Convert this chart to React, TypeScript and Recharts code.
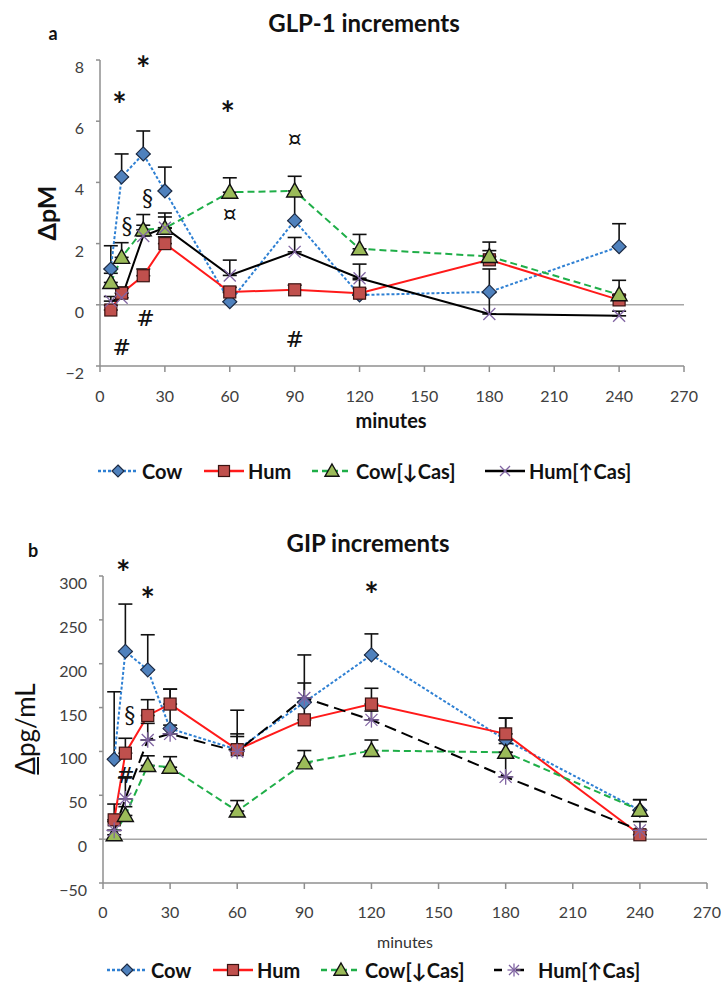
import React from 'react';
import { LineChart, Line, XAxis, YAxis, ErrorBar, ReferenceLine, ReferenceDot } from 'recharts';

const FONT = 'Lato, "Open Sans", "DejaVu Sans", sans-serif';

// sampling times (minutes)
const MINUTES = [5, 10, 20, 30, 60, 90, 120, 180, 240];
const X_TICKS = [0, 30, 60, 90, 120, 150, 180, 210, 240, 270];
const SERIES_NAMES = ['Cow', 'Hum', 'Cow[↓Cas]', 'Hum[↑Cas]'];

// panel a : GLP-1 increments (pM), upper error only
const GLP_COW = [1.17, 4.18, 4.93, 3.72, 0.1, 2.75, 0.32, 0.42, 1.9];
const GLP_COW_SE = [0.76, 0.75, 0.75, 0.78, 0.3, 0.85, 0.5, 0.75, 0.75];
const GLP_HUM = [-0.17, 0.38, 0.95, 2.0, 0.42, 0.49, 0.38, 1.47, 0.16];
const GLP_HUM_SE = [0.15, 0.2, 0.22, 0.22, 0.15, 0.15, 0.15, 0.3, 0.15];
const GLP_COWLOW = [0.73, 1.55, 2.45, 2.5, 3.68, 3.72, 1.83, 1.58, 0.33];
const GLP_COWLOW_SE = [0.3, 0.48, 0.5, 0.5, 0.47, 0.48, 0.47, 0.47, 0.47];
const GLP_HUMHIGH = [0.12, 0.23, 2.25, 2.52, 0.96, 1.73, 0.87, -0.3, -0.36];
const GLP_HUMHIGH_SE = [0.15, 0.3, 0.35, 0.35, 0.5, 0.47, 0.46, 0.7, 0.15];
const GLP_TICKS = [-2, 0, 2, 4, 6, 8];
const GLP_MARKS = [
  { minute: 9, value: 6.8, sign: '*' },
  { minute: 20, value: 8.0, sign: '*' },
  { minute: 59, value: 6.5, sign: '*' },
  { minute: 90, value: 5.4, sign: '¤' },
  { minute: 60, value: 2.94, sign: '¤' },
  { minute: 12.5, value: 2.6, sign: '§' },
  { minute: 22, value: 3.5, sign: '§' },
  { minute: 21, value: -0.46, sign: '#' },
  { minute: 10, value: -1.41, sign: '#' },
  { minute: 90, value: -1.14, sign: '#' },
];

// panel b : GIP increments (pg/mL)
const GIP_COW = [91, 214, 193, 126, 102, 156, 210, 113, 33];
const GIP_COW_SE = [77, 54, 40, 45, 45, 54, 24, 25, 12];
const GIP_HUM = [22, 98, 141, 154, 102, 136, 154, 120, 5];
const GIP_HUM_SE = [18, 17, 18, 17, 15, 20, 18, 18, 5];
const GIP_COWLOW = [5, 27, 84, 82, 32, 87, 101, 99, 33];
const GIP_COWLOW_SE = [5, 10, 11, 12, 12, 14, 12, 10, 12];
const GIP_HUMHIGH = [10, 46, 113, 120, 100, 161, 136, 71, 10];
const GIP_HUMHIGH_SE = [10, 25, 19, 10, 20, 17, 10, 28, 10];
const GIP_TICKS = [-50, 0, 50, 100, 150, 200, 250, 300];
const GIP_MARKS = [
  { minute: 9, value: 313, sign: '*' },
  { minute: 20, value: 282, sign: '*' },
  { minute: 120, value: 288, sign: '*' },
  { minute: 12, value: 142, sign: '§' },
  { minute: 10, value: 73, sign: '#' },
];

const buildRows = (cow: number[], cowSe: number[], hum: number[], humSe: number[],
  cl: number[], clSe: number[], hh: number[], hhSe: number[]) =>
  MINUTES.map((m, i) => ({
    minute: m,
    cow: cow[i], cowErr: [0, cowSe[i]],
    hum: hum[i], humErr: [0, humSe[i]],
    cowLow: cl[i], cowLowErr: [0, clSe[i]],
    humHigh: hh[i], humHighErr: [0, hhSe[i]],
  }));

const glpRows = buildRows(GLP_COW, GLP_COW_SE, GLP_HUM, GLP_HUM_SE, GLP_COWLOW, GLP_COWLOW_SE, GLP_HUMHIGH, GLP_HUMHIGH_SE);
const gipRows = buildRows(GIP_COW, GIP_COW_SE, GIP_HUM, GIP_HUM_SE, GIP_COWLOW, GIP_COWLOW_SE, GIP_HUMHIGH, GIP_HUMHIGH_SE);

const C_COW = '#2f80d3';
const C_HUM = '#ff1a1a';
const C_COWLOW = '#1fae48';
const AXIS = '#8f8f8f';

// markers
const diamond = (cx: number, cy: number, s = 7) => (
  <polygon points={`${cx},${cy - s} ${cx + s},${cy} ${cx},${cy + s} ${cx - s},${cy}`} fill="#4f81bd" stroke="#1d2b44" strokeWidth={1.2} />
);
const square = (cx: number, cy: number, s = 6) => (
  <rect x={cx - s} y={cy - s} width={s * 2} height={s * 2} fill="#c0504d" stroke="#3b1312" strokeWidth={1.2} />
);
const triangle = (cx: number, cy: number, s = 8) => (
  <polygon points={`${cx},${cy - s} ${cx + s},${cy + s * 0.75} ${cx - s},${cy + s * 0.75}`} fill="#9bbb59" stroke="#111" strokeWidth={1.4} />
);
const cross = (cx: number, cy: number, full: boolean, s = 6) => (
  <g stroke="#8064a2" strokeWidth={1.3}>
    <line x1={cx - s} y1={cy - s} x2={cx + s} y2={cy + s} />
    <line x1={cx - s} y1={cy + s} x2={cx + s} y2={cy - s} />
    {full && <line x1={cx} y1={cy - s * 1.3} x2={cx} y2={cy + s * 1.3} />}
    {full && <line x1={cx - s * 1.3} y1={cy} x2={cx + s * 1.3} y2={cy} />}
  </g>
);

const dotOf = (kind: string, full = false) => (p: any) => {
  const { cx, cy, key } = p;
  if (cx == null || cy == null) return <g key={key} />;
  let el;
  if (kind === 'd') el = diamond(cx, cy);
  else if (kind === 's') el = square(cx, cy);
  else if (kind === 't') el = triangle(cx, cy);
  else el = cross(cx, cy, full);
  return <g key={key}>{el}</g>;
};

const fmt = (v: number) => (v < 0 ? `−${Math.abs(v)}` : `${v}`);

const yTick = (p: any) => (
  <text x={p.x} y={p.y} dy={13} textAnchor="end" fill="#404040" fontSize={16} fontFamily={FONT}>
    {fmt(p.payload.value)}
  </text>
);
const xTick = (dy: number) => (p: any) => (
  <text x={p.x} y={p.y} dy={dy} textAnchor="middle" fill="#404040" fontSize={16} fontFamily={FONT}>
    {p.payload.value}
  </text>
);

const markShape = (sign: string) => (p: any) => (
  <text x={p.cx} y={p.cy} textAnchor="middle" dominantBaseline="central"
    fontSize={sign === '*' ? 34 : 22} fontWeight={sign === '*' ? 700 : 400}
    fontFamily={sign === '*' ? FONT : '"DejaVu Serif", serif'} fill="#111"
    dy={sign === '*' ? 7 : 0}>
    {sign}
  </text>
);

const Label = ({ x, y, children, style }: any) => (
  <div style={{ position: 'absolute', left: x, top: y, transform: 'translate(-50%, -50%)', whiteSpace: 'nowrap', fontFamily: FONT, color: '#111', lineHeight: 1, ...style }}>
    {children}
  </div>
);

const LegendRow = ({ top, left, dashed }: { top: number; left: number; dashed: boolean }) => {
  const icons = [
    { color: C_COW, dash: '3 2', m: (cx: number) => diamond(cx, 9, 6) },
    { color: C_HUM, dash: undefined, m: (cx: number) => square(cx, 9, 5.5) },
    { color: C_COWLOW, dash: '6 4', m: (cx: number) => triangle(cx, 9, 7) },
    { color: '#000', dash: dashed ? '8 14' : undefined, m: (cx: number) => cross(cx, 9, dashed, 5) },
  ];
  const offsets = [0, 106, 214, 387];
  return (
    <>
      {SERIES_NAMES.map((name, i) => (
        <div key={name} style={{ position: 'absolute', top, left: left + offsets[i], height: 20, display: 'flex', alignItems: 'center', fontFamily: FONT, fontWeight: 700, fontSize: 20, lineHeight: '20px', color: '#111' }}>
          <svg width={42} height={18} style={{ marginRight: 3 }}>
            <line x1={1} y1={9} x2={41} y2={9} stroke={icons[i].color} strokeWidth={2.5} strokeDasharray={icons[i].dash} />
            {icons[i].m(21)}
          </svg>
          <span>{name}</span>
        </div>
      ))}
    </>
  );
};

const renderSeries = (blackDash: string | undefined, fullStar: boolean) => [
  <Line key="cow" dataKey="cow" stroke={C_COW} strokeWidth={2} strokeDasharray="3 2" dot={dotOf('d')} isAnimationActive={false}>
    <ErrorBar dataKey="cowErr" width={7} stroke="#111" strokeWidth={1.6} direction="y" />
  </Line>,
  <Line key="hum" dataKey="hum" stroke={C_HUM} strokeWidth={2} dot={dotOf('s')} isAnimationActive={false}>
    <ErrorBar dataKey="humErr" width={7} stroke="#111" strokeWidth={1.6} direction="y" />
  </Line>,
  <Line key="cl" dataKey="cowLow" stroke={C_COWLOW} strokeWidth={2} strokeDasharray="7 4" dot={dotOf('t')} isAnimationActive={false}>
    <ErrorBar dataKey="cowLowErr" width={7} stroke="#111" strokeWidth={1.6} direction="y" />
  </Line>,
  <Line key="hh" dataKey="humHigh" stroke="#000" strokeWidth={2} strokeDasharray={blackDash} dot={dotOf('x', fullStar)} isAnimationActive={false}>
    <ErrorBar dataKey="humHighErr" width={7} stroke="#111" strokeWidth={1.6} direction="y" />
  </Line>,
];

export default function App() {
  return (
    <div style={{ position: 'absolute', left: 0, top: 0, width: 721, height: 983, background: '#fff', overflow: 'hidden' }}>
      {/* panel a */}
      <Label x={53} y={33} style={{ fontWeight: 700, fontSize: 18 }}>a</Label>
      <Label x={364} y={23} style={{ fontWeight: 700, fontSize: 24 }}>GLP-1 increments</Label>
      <Label x={46} y={213} style={{ fontWeight: 700, fontSize: 25, transform: 'translate(-50%, -50%) rotate(-90deg)' }}>ΔpM</Label>
      <Label x={391} y={420} style={{ fontWeight: 700, fontSize: 20 }}>minutes</Label>
      <div style={{ position: 'absolute', left: 0, top: 0 }}>
        <LineChart width={721} height={440} data={glpRows} margin={{ top: 60, right: 37, left: 40, bottom: 14 }}>
          <XAxis dataKey="minute" type="number" domain={[0, 270]} ticks={X_TICKS} height={60}
            stroke={AXIS} strokeWidth={1.5} tickSize={6} tickMargin={2} tick={xTick(28)} />
          <YAxis type="number" domain={[-2, 8]} ticks={GLP_TICKS} width={60}
            stroke={AXIS} strokeWidth={1.5} tickSize={4} tickMargin={12} tick={yTick} />
          <ReferenceLine y={0} stroke="#a6a6a6" strokeWidth={1.5} />
          {renderSeries(undefined, false)}
          {GLP_MARKS.map((m, i) => (
            <ReferenceDot key={i} x={m.minute} y={m.value} r={0} ifOverflow="visible" shape={markShape(m.sign)} />
          ))}
        </LineChart>
      </div>
      <LegendRow top={461} left={97} dashed={false} />

      {/* panel b */}
      <Label x={33} y={550} style={{ fontWeight: 700, fontSize: 18 }}>b</Label>
      <Label x={368} y={543} style={{ fontWeight: 700, fontSize: 24 }}>GIP increments</Label>
      <Label x={25} y={729} style={{ fontSize: 26, transform: 'translate(-50%, -50%) rotate(-90deg)' }}>
        <span style={{ textDecoration: 'underline' }}>Δ</span>pg/mL
      </Label>
      <Label x={405} y={942} style={{ fontSize: 16, color: '#333' }}>minutes</Label>
      <div style={{ position: 'absolute', left: 0, top: 490 }}>
        <LineChart width={721} height={440} data={gipRows} margin={{ top: 86, right: 14, left: 43, bottom: 7 }}>
          <XAxis dataKey="minute" type="number" domain={[0, 270]} ticks={X_TICKS} height={40}
            stroke={AXIS} strokeWidth={1.5} tickSize={6} tickMargin={2} tick={xTick(27)} />
          <YAxis type="number" domain={[-50, 300]} ticks={GIP_TICKS} width={60}
            stroke={AXIS} strokeWidth={1.5} tickSize={4} tickMargin={12} tick={yTick} />
          <ReferenceLine y={0} stroke="#a6a6a6" strokeWidth={1.5} />
          {renderSeries('12 6', true)}
          {GIP_MARKS.map((m, i) => (
            <ReferenceDot key={i} x={m.minute} y={m.value} r={0} ifOverflow="visible" shape={markShape(m.sign)} />
          ))}
        </LineChart>
      </div>
      <LegendRow top={960} left={106} dashed={true} />
    </div>
  );
}
